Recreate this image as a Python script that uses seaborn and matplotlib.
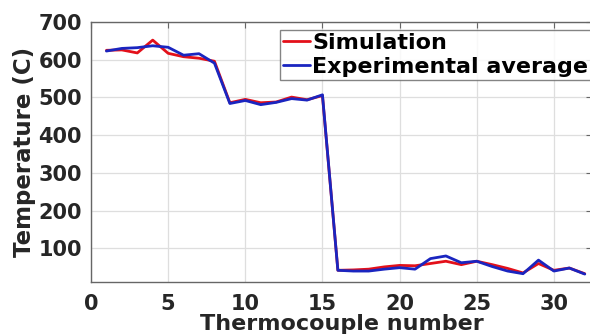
import numpy as np
import pandas as pd
import matplotlib
matplotlib.use("Agg")
import matplotlib.pyplot as plt
import seaborn as sns

thermocouple = list(range(1, 33))
simulation = [625, 626, 618, 652, 617, 608, 604, 596, 486, 495, 486, 488, 501, 494, 505,
              42, 43, 45, 51, 55, 54, 60, 66, 57, 66, 57, 47, 35, 60, 42, 48, 33]
experimental = [623, 630, 632, 637, 633, 612, 616, 591, 484, 492, 481, 487, 497, 493, 507,
                42, 40, 40, 45, 49, 45, 73, 80, 62, 66, 52, 40, 33, 69, 40, 48, 32]
series_names = ["Simulation", "Experimental average"]
x_ticks = [0, 5, 10, 15, 20, 25, 30]
y_ticks = [100, 200, 300, 400, 500, 600, 700]

df = pd.DataFrame({
    "Thermocouple number": thermocouple * 2,
    "Temperature (C)": simulation + experimental,
    "Series": [series_names[0]] * 32 + [series_names[1]] * 32,
})

sns.set_theme(style="whitegrid")
plt.rcParams['font.family'] = ['DejaVu Sans']
plt.rcParams['font.weight'] = 'bold'

fig = plt.figure(figsize=(5.9, 3.36), dpi=100)
# x: 0 -> 91px, 15.43 px/unit ; y: 11 -> 282px, 700 -> 22px
x0, x1 = 0, 32.5
ax_w = (x1 - x0) * 15.43
ax = fig.add_axes([91/590, 1 - 282/336, ax_w/590, 260/336])

sns.lineplot(data=df, x="Thermocouple number", y="Temperature (C)", hue="Series",
             palette={"Simulation": "#e3101a", "Experimental average": "#1a25c0"},
             linewidth=2, ax=ax)

ax.set_xlim(x0, x1)
ax.set_ylim(11, 700)
ax.set_xticks(x_ticks)
ax.set_yticks(y_ticks)
ax.grid(True, color="#dedede", linewidth=0.9)
for s in ax.spines.values():
    s.set_color("#666666")
    s.set_linewidth(1.0)
ax.tick_params(axis="both", labelsize=15, direction="in", length=4, width=0.8,
               colors="#666666", labelcolor="#262626", top=True, right=True)
ax.tick_params(axis="y", pad=6.5)
ax.tick_params(axis="x", pad=9)
for lab in ax.get_xticklabels() + ax.get_yticklabels():
    lab.set_fontweight("bold")
ax.set_xlabel("Thermocouple number", fontsize=16, fontweight="bold", color="#262626", labelpad=0)
ax.set_ylabel("Temperature (C)", fontsize=16.5, fontweight="bold", color="#262626", labelpad=2)

leg = ax.legend(loc="upper left", bbox_to_anchor=((280-91)/ax_w, (282-29.5)/260), frameon=True,
                fontsize=16, handlelength=1.2, handletextpad=0.12, borderpad=0.14,
                labelspacing=0.2, fancybox=False, borderaxespad=0)
leg.get_frame().set_edgecolor("#666666")
leg.get_frame().set_linewidth(1.0)
for t in leg.get_texts():
    t.set_fontweight("bold")
    t.set_color("#000000")

fig.savefig("out.png", dpi=100)
